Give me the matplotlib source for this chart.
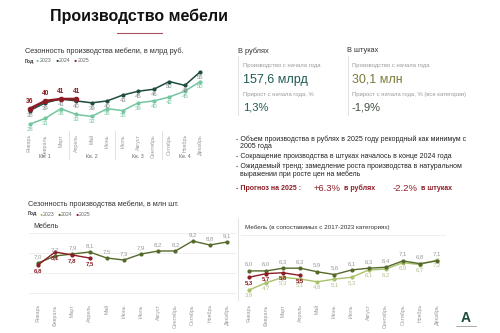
import matplotlib
matplotlib.use("Agg")
import matplotlib.pyplot as plt

plt.rcParams['font.family'] = ['Liberation Sans', 'DejaVu Sans']

W, H = 500, 333

months = ["Январь", "Февраль", "Март", "Апрель", "Май", "Июнь",
          "Июль", "Август", "Сентябрь", "Октябрь", "Ноябрь", "Декабрь"]
quarters = ["Кв. 1", "Кв. 2", "Кв. 3", "Кв. 4"]

# млрд руб.
rub_2023 = [28, 31, 36, 33, 32, 36, 35, 39, 40, 42, 45, 50]
rub_2024 = [35, 39, 41, 40, 39, 40, 43, 45, 46, 50, 48, 55]
rub_2025 = [36, 40, 41, 41]

# млн шт., мебель
pcs_2024 = [7.0, 7.7, 7.9, 8.1, 7.5, 7.3, 7.9, 8.2, 8.2, 9.2, 8.8, 9.1]
pcs_2025 = [6.8, 8.1, 7.8, 7.5]

# млн шт., сопоставимые категории
cmp_2023 = [3.9, 4.7, 5.3, 5.1, 4.8, 5.1, 5.3, 6.1, 6.2, 6.9, 6.7, 7.2]
cmp_2024 = [6.0, 6.0, 6.3, 6.3, 5.9, 5.6, 6.1, 6.3, 6.4, 7.1, 6.8, 7.1]
cmp_2025 = [5.3, 5.7, 5.8, 5.5]

C23 = "#72c6a0"
C24 = "#1e4c40"
C25 = "#8b1c24"
O23 = "#a8c26a"
O24 = "#55692b"


def fx(x):
    return x / W


def fy(y):
    return 1 - y / H


def axes_px(fig, left, top, right, bottom):
    return fig.add_axes([fx(left), fy(bottom), (right - left) / W, (bottom - top) / H])


def month_axis(ax):
    ax.set_xlim(-0.5, 11.5)
    ax.set_xticks(range(12))
    ax.set_xticklabels(months, rotation=90, fontsize=3.8, color="#999999")
    ax.tick_params(axis="x", length=0, pad=3)
    ax.set_yticks([])
    for s in ax.spines.values():
        s.set_visible(False)
    ax.patch.set_alpha(0)


def labels(ax, vals, dy, color, size=4.3, bold=False):
    for i, v in enumerate(vals):
        if isinstance(v, float):
            txt = f"{v:.1f}".replace(".", ",")
        else:
            txt = str(v)
        ax.annotate(txt, (i, v), xytext=(0, dy), textcoords="offset points",
                    ha="center", va="bottom" if dy > 0 else "top",
                    fontsize=size, color=color,
                    fontweight="bold" if bold else "normal")


fig = plt.figure(figsize=(5, 3.33), dpi=100)
fig.patch.set_facecolor("white")

# заголовок
fig.text(fx(50), fy(16), "Производство мебели", fontsize=11.5, fontweight="bold",
         color="#111111", va="center")
fig.add_artist(plt.Line2D([fx(117), fx(162)], [fy(33), fy(33)], color="#a8505c", lw=0.8))

# верхний график
fig.text(fx(25), fy(51), "Сезонность производства мебели, в млрд руб.", fontsize=5.3,
         color="#333333", va="center")
fig.text(fx(25), fy(61), "Год", fontsize=3.8, fontweight="bold", color="#333333", va="center")
for x0, c, t in [(36, C23, "2023"), (55, C24, "2024"), (74, C25, "2025")]:
    fig.text(fx(x0), fy(61), "●", fontsize=3.8, color=c, va="center")
    fig.text(fx(x0 + 4), fy(61), t, fontsize=3.8, color="#666666", va="center")

ax1 = axes_px(fig, 22, 66, 208, 130)
month_axis(ax1)
ax1.set_ylim(25, 58)
ax1.plot(range(12), rub_2023, color=C23, lw=1.1, marker="o", ms=2)
ax1.plot(range(12), rub_2024, color=C24, lw=1.1, marker="o", ms=2)
ax1.plot(range(4), rub_2025, color=C25, lw=1.8, marker="o", ms=3)
labels(ax1, rub_2023, -2, C23)
labels(ax1, rub_2024, -2, "#7f8c8a")
labels(ax1, rub_2025, 3, C25, size=4.8, bold=True)
for xs in [2.5, 5.5, 8.5]:
    ax1.axvline(xs, ymin=-0.46, ymax=-0.02, clip_on=False, color="#dddddd", lw=0.6)
for q, name in enumerate(quarters):
    ax1.text(1 + 3 * q, -0.42, name, transform=ax1.get_xaxis_transform(),
             fontsize=3.8, color="#666666", ha="center", va="center")

# правая панель с показателями
fig.text(fx(238), fy(51), "В рублях", fontsize=5.3, color="#333333", va="center")
fig.text(fx(347), fy(51), "В штуках", fontsize=5.3, color="#333333", va="center")
for xl in [238, 348]:
    fig.add_artist(plt.Line2D([fx(xl), fx(xl)], [fy(56), fy(115)], color="#dddddd", lw=0.6))
fig.text(fx(243), fy(65), "Производство с начала года", fontsize=4.2, color="#999999", va="center")
fig.text(fx(352), fy(65), "Производство с начала года", fontsize=4.2, color="#999999", va="center")
fig.text(fx(243), fy(80), "157,6 млрд", fontsize=9, color="#1f5a55", va="center")
fig.text(fx(352), fy(80), "30,1 млн", fontsize=9, color="#7a7a3a", va="center")
fig.text(fx(243), fy(94), "Прирост с начала года, %", fontsize=4.2, color="#999999", va="center")
fig.text(fx(352), fy(94), "Прирост с начала года, % (все категории)", fontsize=4.2,
         color="#999999", va="center")
fig.text(fx(243), fy(108), "1,3%", fontsize=8, color="#1f5a55", va="center")
fig.text(fx(352), fy(108), "-1,9%", fontsize=8, color="#3f4f3f", va="center")

bullets = [
    (139, "- Объем производства в рублях в 2025 году рекордный как минимум с"),
    (147, "  2005 года"),
    (157, "- Сокращение производства в штуках началось в конце 2024 года"),
    (166, "- Ожидаемый тренд: замедление роста производства в натуральном"),
    (174, "  выражении при росте цен на мебель"),
]
for y, t in bullets:
    fig.text(fx(236), fy(y), t, fontsize=5, color="#222222", va="center")
fig.text(fx(236), fy(188), "- Прогноз на 2025 :", fontsize=5, fontweight="bold", color=C25, va="center")
fig.text(fx(314), fy(188), "+6.3%", fontsize=6.8, color=C25, va="center")
fig.text(fx(344), fy(188), "в рублях", fontsize=5, fontweight="bold", color=C25, va="center")
fig.text(fx(393), fy(188), "-2.2%", fontsize=6.8, color=C25, va="center")
fig.text(fx(421), fy(188), "в штуках", fontsize=5, fontweight="bold", color=C25, va="center")

# нижние графики
fig.text(fx(28), fy(204), "Сезонность производства мебели, в млн шт.", fontsize=5.3,
         color="#333333", va="center")
fig.text(fx(28), fy(214), "Год", fontsize=3.8, fontweight="bold", color="#333333", va="center")
for x0, c, t in [(39, O23, "2023"), (57, O24, "2024"), (75, C25, "2025")]:
    fig.text(fx(x0), fy(214), "●", fontsize=3.8, color=c, va="center")
    fig.text(fx(x0 + 4), fy(214), t, fontsize=3.8, color="#666666", va="center")

ax2 = axes_px(fig, 29.4, 230, 235.6, 300)
month_axis(ax2)
ax2.set_ylim(3.3, 10.3)
for g in [4, 6, 8, 10]:
    ax2.axhline(g, color="#ececec", lw=0.6, zorder=0)
ax2.plot(range(12), pcs_2024, color=O24, lw=1.0, marker="o", ms=2)
ax2.plot(range(4), pcs_2025, color=C25, lw=1.0, marker="o", ms=2)
labels(ax2, pcs_2024, 3, "#999999")
labels(ax2, pcs_2025, -2, C25, bold=True)
fig.text(fx(33), fy(227), "Мебель", fontsize=5, color="#333333", va="center")

fig.add_artist(plt.Line2D([fx(238), fx(238)], [fy(218), fy(300)], color="#dddddd", lw=0.6))

ax3 = axes_px(fig, 240.5, 230, 445.5, 300)
month_axis(ax3)
ax3.set_ylim(2.8, 10.5)
ax3.axhline(10, color="#ececec", lw=0.6, zorder=0)
ax3.plot(range(12), cmp_2023, color=O23, lw=1.0, marker="o", ms=2)
ax3.plot(range(12), cmp_2024, color=O24, lw=1.0, marker="o", ms=2)
ax3.plot(range(4), cmp_2025, color=C25, lw=1.0, marker="o", ms=2)
labels(ax3, cmp_2023, -2, "#b5c08f")
labels(ax3, cmp_2024, 3, "#999999")
labels(ax3, cmp_2025, -2, C25, bold=True)
fig.text(fx(245), fy(227), "Мебель (в сопоставимых с 2017-2023 категориях)", fontsize=4.5,
         color="#333333", va="center")

# логотип
fig.text(fx(466), fy(318), "A", fontsize=10, fontweight="bold", color=C24, ha="center", va="center")
fig.add_artist(plt.Line2D([fx(456), fx(476)], [fy(326), fy(326)], color="#888888", lw=0.5))

fig.savefig("out.png", dpi=100)
